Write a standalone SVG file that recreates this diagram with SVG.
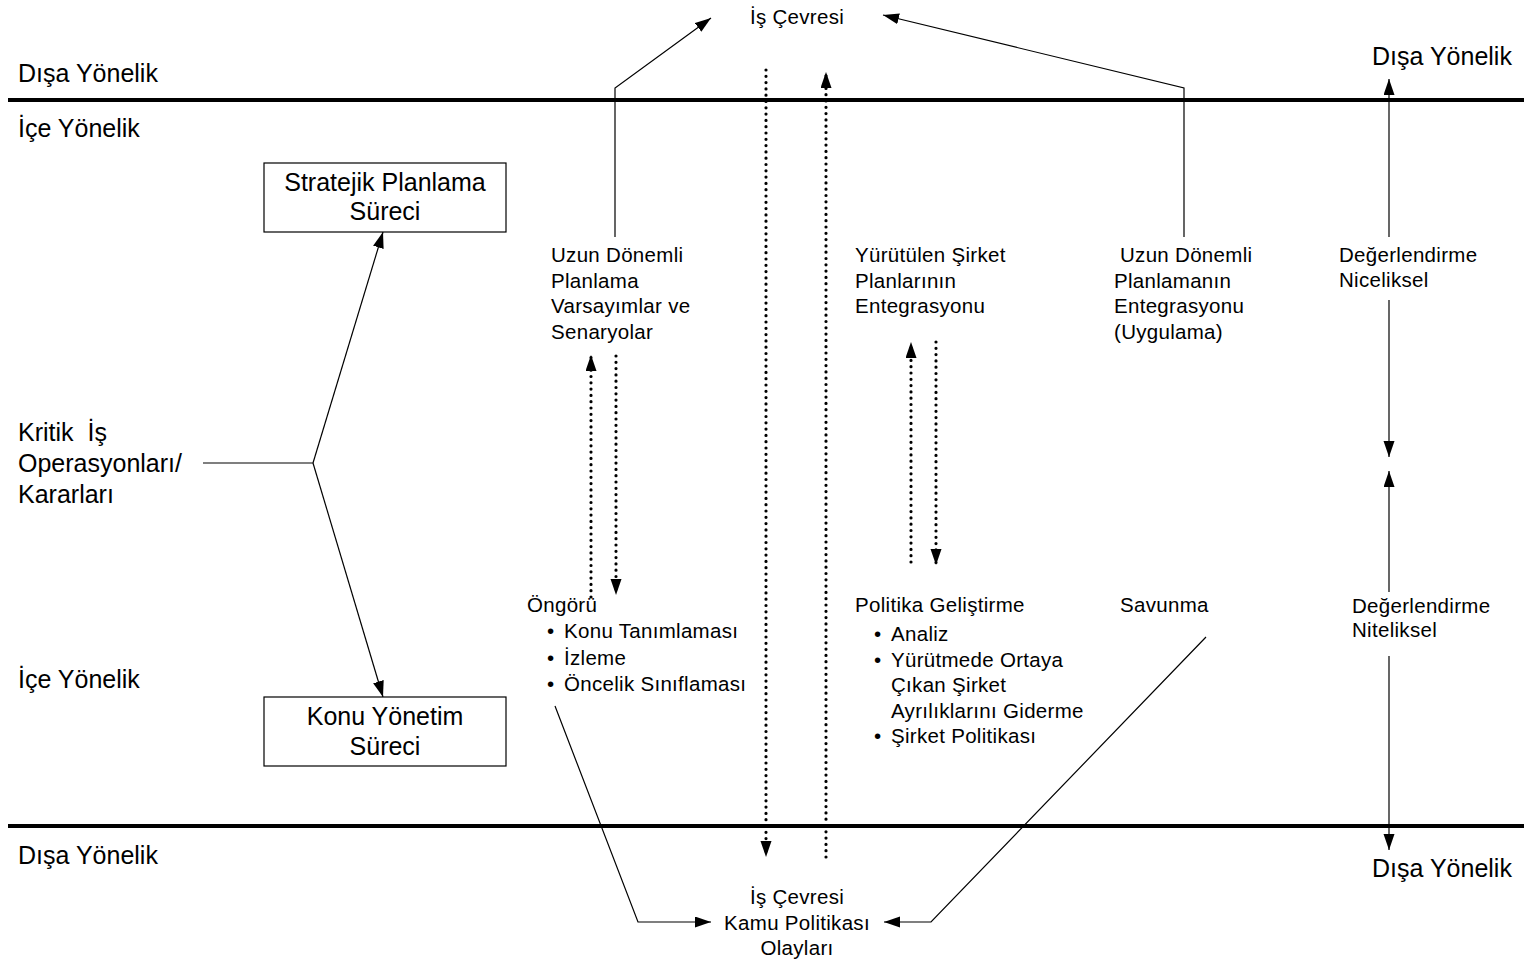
<svg xmlns="http://www.w3.org/2000/svg" width="1531" height="968" viewBox="0 0 1531 968">
  <style>
    text { font-family: "Liberation Sans", Arial, sans-serif; fill: #000; }
    .lg { font-size: 25px; }
    .md { font-size: 20.5px; letter-spacing: 0.3px; }
    .mid { text-anchor: middle; }
    .band { stroke: #000; stroke-width: 4; fill: none; }
    .ln { stroke: #000; stroke-width: 1.2; fill: none; }
    .dot { stroke: #000; stroke-width: 3.2; fill: none; stroke-dasharray: 0 6.3; stroke-linecap: round; }
    .box { fill: #fff; stroke: #000; stroke-width: 1.2; }
  </style>
  <defs>
    <marker id="arrow" markerUnits="userSpaceOnUse" markerWidth="18" markerHeight="12" refX="16" refY="5.5" orient="auto">
      <path d="M0,0 L16,5.5 L0,11 z" fill="#000"/>
    </marker>
  </defs>
  <rect width="1531" height="968" fill="#fff"/>

  <!-- orientation bands -->
  <g id="bands">
    <line class="band" x1="8" y1="100" x2="1524" y2="100"/>
    <line class="band" x1="8" y1="826" x2="1524" y2="826"/>
    <text class="lg" x="18" y="82">Dışa Yönelik</text>
    <text class="lg" x="18" y="137">İçe Yönelik</text>
    <text class="lg" x="18" y="688">İçe Yönelik</text>
    <text class="lg" x="18" y="864">Dışa Yönelik</text>
    <text class="lg" x="1372" y="65">Dışa Yönelik</text>
    <text class="lg" x="1372" y="877">Dışa Yönelik</text>
  </g>

  <!-- connectors -->
  <g id="connectors">
    <path class="ln" d="M203,463 L313,463"/>
    <path class="ln" d="M313,463 L383,232" marker-end="url(#arrow)"/>
    <path class="ln" d="M313,463 L383,697" marker-end="url(#arrow)"/>
    <path class="ln" d="M615,237 L615,88 L711,18" marker-end="url(#arrow)"/>
    <path class="ln" d="M1184,237 L1184,88 L883,15" marker-end="url(#arrow)"/>
    <path class="ln" d="M1389,237 L1389,79" marker-end="url(#arrow)"/>
    <path class="ln" d="M1389,300 L1389,457" marker-end="url(#arrow)"/>
    <path class="ln" d="M1389,592 L1389,471" marker-end="url(#arrow)"/>
    <path class="ln" d="M1389,656 L1389,850" marker-end="url(#arrow)"/>
    <path class="ln" d="M555,706 L638,922 L711,922" marker-end="url(#arrow)"/>
    <path class="ln" d="M1206,637 L931,922 L884,922" marker-end="url(#arrow)"/>
    <path class="dot" d="M766,70 L766,857" marker-end="url(#arrow)"/>
    <path class="dot" d="M826,857 L826,72" marker-end="url(#arrow)"/>
    <path class="dot" d="M591,597 L591,355" marker-end="url(#arrow)"/>
    <path class="dot" d="M616,356 L616,595" marker-end="url(#arrow)"/>
    <path class="dot" d="M911,562 L911,342" marker-end="url(#arrow)"/>
    <path class="dot" d="M936,342 L936,565" marker-end="url(#arrow)"/>
  </g>

  <g id="kritik">
    <text class="lg" x="18" y="441">Kritik&#160; İş</text>
    <text class="lg" x="18" y="472">Operasyonları/</text>
    <text class="lg" x="18" y="503">Kararları</text>
  </g>

  <g id="stratejik">
    <rect class="box" x="264" y="163" width="242" height="69"/>
    <text class="lg mid" x="385" y="191">Stratejik Planlama</text>
    <text class="lg mid" x="385" y="220">Süreci</text>
  </g>

  <g id="konu">
    <rect class="box" x="264" y="697" width="242" height="69"/>
    <text class="lg mid" x="385" y="725">Konu Yönetim</text>
    <text class="lg mid" x="385" y="755">Süreci</text>
  </g>

  <g id="is-cevresi-top">
    <text class="md mid" x="797" y="24">İş Çevresi</text>
  </g>

  <g id="uzun-donemli">
    <text class="md" x="551" y="262">Uzun Dönemli</text>
    <text class="md" x="551" y="288">Planlama</text>
    <text class="md" x="551" y="313">Varsayımlar ve</text>
    <text class="md" x="551" y="339">Senaryolar</text>
  </g>

  <g id="yurutulen">
    <text class="md" x="855" y="262">Yürütülen Şirket</text>
    <text class="md" x="855" y="288">Planlarının</text>
    <text class="md" x="855" y="313">Entegrasyonu</text>
  </g>

  <g id="entegrasyon">
    <text class="md" x="1120" y="262">Uzun Dönemli</text>
    <text class="md" x="1114" y="288">Planlamanın</text>
    <text class="md" x="1114" y="313">Entegrasyonu</text>
    <text class="md" x="1114" y="339">(Uygulama)</text>
  </g>

  <g id="nicel">
    <text class="md" x="1339" y="262">Değerlendirme</text>
    <text class="md" x="1339" y="287">Niceliksel</text>
  </g>

  <g id="nitel">
    <text class="md" x="1352" y="613">Değerlendirme</text>
    <text class="md" x="1352" y="637">Niteliksel</text>
  </g>

  <g id="ongoru">
    <text class="md" x="527" y="612">Öngörü</text>
    <text class="md" x="547" y="638">•</text><text class="md" x="564" y="638">Konu Tanımlaması</text>
    <text class="md" x="547" y="665">•</text><text class="md" x="564" y="665">İzleme</text>
    <text class="md" x="547" y="691">•</text><text class="md" x="564" y="691">Öncelik Sınıflaması</text>
  </g>

  <g id="politika">
    <text class="md" x="855" y="612">Politika Geliştirme</text>
    <text class="md" x="874" y="641">•</text><text class="md" x="891" y="641">Analiz</text>
    <text class="md" x="874" y="667">•</text><text class="md" x="891" y="667">Yürütmede Ortaya</text>
    <text class="md" x="891" y="692">Çıkan Şirket</text>
    <text class="md" x="891" y="718">Ayrılıklarını Giderme</text>
    <text class="md" x="874" y="743">•</text><text class="md" x="891" y="743">Şirket Politikası</text>
  </g>

  <g id="savunma">
    <text class="md" x="1120" y="612">Savunma</text>
  </g>

  <g id="kamu-politikasi">
    <text class="md mid" x="797" y="904">İş Çevresi</text>
    <text class="md mid" x="797" y="930">Kamu Politikası</text>
    <text class="md mid" x="797" y="955">Olayları</text>
  </g>
</svg>
